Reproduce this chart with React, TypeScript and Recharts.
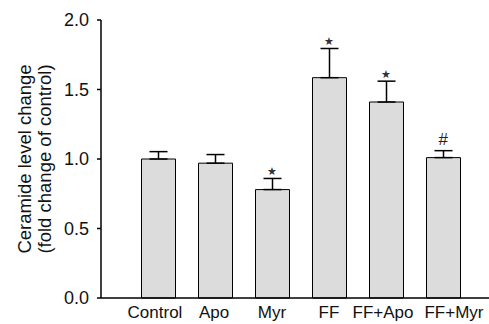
import React from 'react';
import { ComposedChart, Bar, ErrorBar, XAxis, YAxis, Scatter } from 'recharts';

const categories = ['Control', 'Apo', 'Myr', 'FF', 'FF+Apo', 'FF+Myr'];
const means = [1.0, 0.97, 0.78, 1.585, 1.41, 1.01];
const upperErrors = [0.053, 0.062, 0.08, 0.21, 0.15, 0.05];
const marks = ['', '', '*', '*', '*', '#'];
const yTicks = [0, 0.5, 1.0, 1.5, 2.0];

const data = categories.map((c, i) => ({
  name: c,
  value: means[i],
  err: [0, upperErrors[i]],
  top: means[i] + upperErrors[i],
  mark: marks[i],
}));

const FONT = 'Liberation Sans, Arial, Helvetica, sans-serif';
const LABEL_SHIFT = [-3, -1, 0, 0, -3, 11];

const XTick = (props: any) => {
  const { x, y, payload, index } = props;
  const dx = LABEL_SHIFT[index] || 0;
  return (
    <text x={x + dx} y={y + 20} textAnchor="middle" fontFamily={FONT} fontSize={17} fill="#111">
      {payload.value}
    </text>
  );
};

const MarkShape = (props: any) => {
  const { cx, cy, payload } = props;
  if (!payload || !payload.mark) return <g />;
  if (payload.mark === '#') {
    return (
      <text x={cx} y={cy - 6} textAnchor="middle" fontFamily={FONT} fontStyle="italic" fontSize={17} fill="#222">
        #
      </text>
    );
  }
  return (
    <text x={cx} y={cy - 3} textAnchor="middle" fontFamily={FONT} fontSize={11} fill="#333">
      ★
    </text>
  );
};

const YLabel = (props: any) => {
  const vb = props.viewBox || {};
  const cy = vb.y + vb.height / 2;
  return (
    <g fontFamily={FONT} fontSize={18.5} fill="#111">
      <text x={31} y={cy} transform={`rotate(-90 31 ${cy})`} textAnchor="middle">
        Ceramide level change
      </text>
      <text x={51} y={cy} transform={`rotate(-90 51 ${cy})`} textAnchor="middle">
        (fold change of control)
      </text>
    </g>
  );
};

export default function App() {
  return (
    <div style={{ position: 'absolute', left: 0, top: 0, width: 489, height: 324, background: '#fff' }}>
      <ComposedChart width={489} height={324} data={data} margin={{ top: 20, right: 0, bottom: 0, left: 0 }}>
        <XAxis
          dataKey="name"
          padding={{ left: 28.5, right: 17.5 }}
          tickLine={false}
          tickSize={0}
          tickMargin={0}
          stroke="#000"
          strokeWidth={1.5}
          tick={<XTick />}
          interval={0}
          height={26}
        />
        <YAxis
          type="number"
          domain={[0, 2]}
          ticks={yTicks}
          tickFormatter={(v: number) => v.toFixed(1)}
          width={101}
          tickSize={4}
          tickMargin={8}
          stroke="#000"
          strokeWidth={1.5}
          tick={{ fill: '#111', fontSize: 18, fontFamily: FONT }}
          label={<YLabel />}
        />
        <Bar dataKey="value" barSize={34} fill="#dcdcdc" stroke="#000" strokeWidth={1} isAnimationActive={false}>
          <ErrorBar dataKey="err" width={9} stroke="#000" strokeWidth={1.5} direction="y" />
        </Bar>
        <Scatter dataKey="top" shape={<MarkShape />} isAnimationActive={false} />
      </ComposedChart>
    </div>
  );
}
